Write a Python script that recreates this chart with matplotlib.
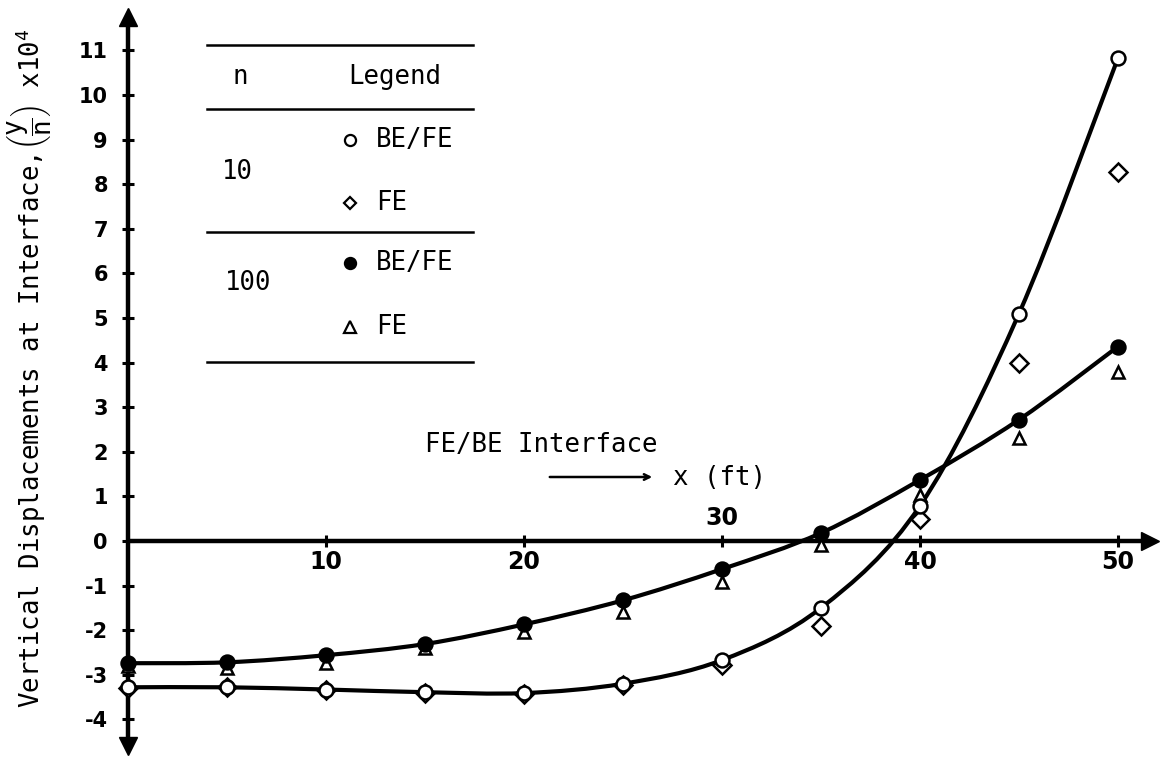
import matplotlib
matplotlib.use("Agg")
import matplotlib.pyplot as plt
from matplotlib.path import Path
from matplotlib.patches import PathPatch
from matplotlib.lines import Line2D

# data (x in ft, displacement x 10^4)
x_pts = [0, 5, 10, 15, 20, 25, 30, 35, 40, 45, 50]
be_fe_10 = [-3.28, -3.28, -3.33, -3.39, -3.41, -3.2, -2.67, -1.5, 0.79, 5.1, 10.83]
fe_10 = [-3.3, -3.28, -3.33, -3.4, -3.43, -3.22, -2.79, -1.9, 0.49, 4.0, 8.27]
be_fe_100 = [-2.74, -2.72, -2.56, -2.31, -1.87, -1.33, -0.63, 0.18, 1.37, 2.72, 4.36]
fe_100 = [-2.8, -2.85, -2.74, -2.4, -2.05, -1.6, -0.92, -0.09, 1.03, 2.31, 3.8]

y_ticks = [-4, -3, -2, -1, 0, 1, 2, 3, 4, 5, 6, 7, 8, 9, 10, 11]
x_ticks = [10, 20, 30, 40, 50]

W, H = 1165, 761
MONO = "DejaVu Sans Mono"
plt.rcParams['mathtext.fontset'] = 'custom'
plt.rcParams['mathtext.rm'] = MONO
plt.rcParams['mathtext.it'] = MONO


def P(px, py):
    # figure pixel -> figure fraction
    return (px / W, 1 - py / H)


def smooth_path(xs, ys):
    # Catmull-Rom curve through the points, drawn as cubic beziers
    verts = [(xs[0], ys[0])]
    codes = [Path.MOVETO]
    n = len(xs)
    for i in range(n - 1):
        x0, y0 = (xs[i - 1], ys[i - 1]) if i > 0 else (xs[i], ys[i])
        x1, y1 = xs[i], ys[i]
        x2, y2 = xs[i + 1], ys[i + 1]
        x3, y3 = (xs[i + 2], ys[i + 2]) if i + 2 < n else (x2, y2)
        c1 = (x1 + (x2 - x0) / 6, y1 + (y2 - y0) / 6)
        c2 = (x2 - (x3 - x1) / 6, y2 - (y3 - y1) / 6)
        verts += [c1, c2, (x2, y2)]
        codes += [Path.CURVE4] * 3
    return Path(verts, codes)


fig = plt.figure(figsize=(W / 100, H / 100), dpi=100)
ax = fig.add_axes([0, 0, 1, 1])
ax.set_xlim(-128 / 19.8, (W - 128) / 19.8)
ax.set_ylim(-(H - 541) / 44.6, 541 / 44.6)

for s in ['top', 'right']:
    ax.spines[s].set_visible(False)
ax.spines['left'].set_position(('data', 0))
ax.spines['bottom'].set_position(('data', 0))
ax.spines['left'].set_bounds(-4.6, 11.7)
ax.spines['bottom'].set_bounds(0, 51.5)
for s in ['left', 'bottom']:
    ax.spines[s].set_linewidth(3.2)
    ax.spines[s].set_capstyle('butt')

# arrow heads on the axes
ax.plot([0], [11.75], marker='^', ms=13, color='black', clip_on=False, zorder=5)
ax.plot([0], [-4.6], marker='v', ms=13, color='black', clip_on=False, zorder=5)
ax.plot([51.6], [0], marker='>', ms=13, color='black', clip_on=False, zorder=5)

ax.set_yticks(y_ticks)
ax.set_yticklabels([str(v) for v in y_ticks], fontsize=15, fontweight='bold')
ax.set_xticks(x_ticks)
ax.set_xticklabels(['10', '20', '', '40', '50'], fontsize=17, fontweight='bold')
ax.tick_params(axis='both', direction='inout', length=9, width=2.2)
ax.tick_params(axis='y', pad=10)
ax.tick_params(axis='x', pad=2)
ax.text(30, 0.25, '30', ha='center', va='bottom', fontsize=17, fontweight='bold')

# curves through the BE/FE results
for ys in (be_fe_10, be_fe_100):
    ax.add_patch(PathPatch(smooth_path(x_pts, ys), fill=False, lw=3, ec='black', zorder=3))

mk = dict(linestyle='none', color='black', zorder=4, mew=1.8)
ax.plot(x_pts, fe_10, marker='D', ms=9, mfc='white', **mk)
ax.plot(x_pts, fe_100, marker='^', ms=9, mfc='white', **mk)
ax.plot(x_pts, be_fe_10, marker='o', ms=10, mfc='white', **mk)
ax.plot(x_pts, be_fe_100, marker='o', ms=10, mfc='black', **mk)

# y label
fig.text(*P(30, 368), r"Vertical Displacements at Interface,$\left(\dfrac{y}{n}\right)$ x10$^4$",
         rotation=90, ha='center', va='center', fontsize=18.5, family=MONO)

# legend table
for py in (45, 109, 232, 362):
    fig.add_artist(Line2D([207 / W, 473 / W], [1 - py / H] * 2, color='black', lw=1.8))
tk = dict(fontsize=18.5, family=MONO, va='center')
fig.text(*P(240, 77), 'n', ha='center', **tk)
fig.text(*P(395, 77), 'Legend', ha='center', **tk)
fig.text(*P(237, 172), '10', ha='center', **tk)
fig.text(*P(248, 283), '100', ha='center', **tk)
rows = [(140, 'o', 'white', 'BE/FE'), (203, 'D', 'white', 'FE'),
        (263, 'o', 'black', 'BE/FE'), (327, '^', 'white', 'FE')]
for py, m, fc, lab in rows:
    fig.add_artist(Line2D([350 / W], [1 - py / H], marker=m, ms=8 if m != 'D' else 6,
                          mfc=fc, mec='black', mew=1.6, linestyle='none'))
    fig.text(*P(376, py), lab, ha='left', **tk)

# interface annotation
fig.text(*P(425, 445), 'FE/BE Interface', ha='left', **tk)
ax.annotate('', xy=P(655, 477), xytext=P(547, 477), xycoords='figure fraction',
            arrowprops=dict(arrowstyle='->', lw=1.8, color='black'))
fig.text(*P(673, 478), 'x (ft)', ha='left', **tk)

fig.savefig('out.png', dpi=100)
